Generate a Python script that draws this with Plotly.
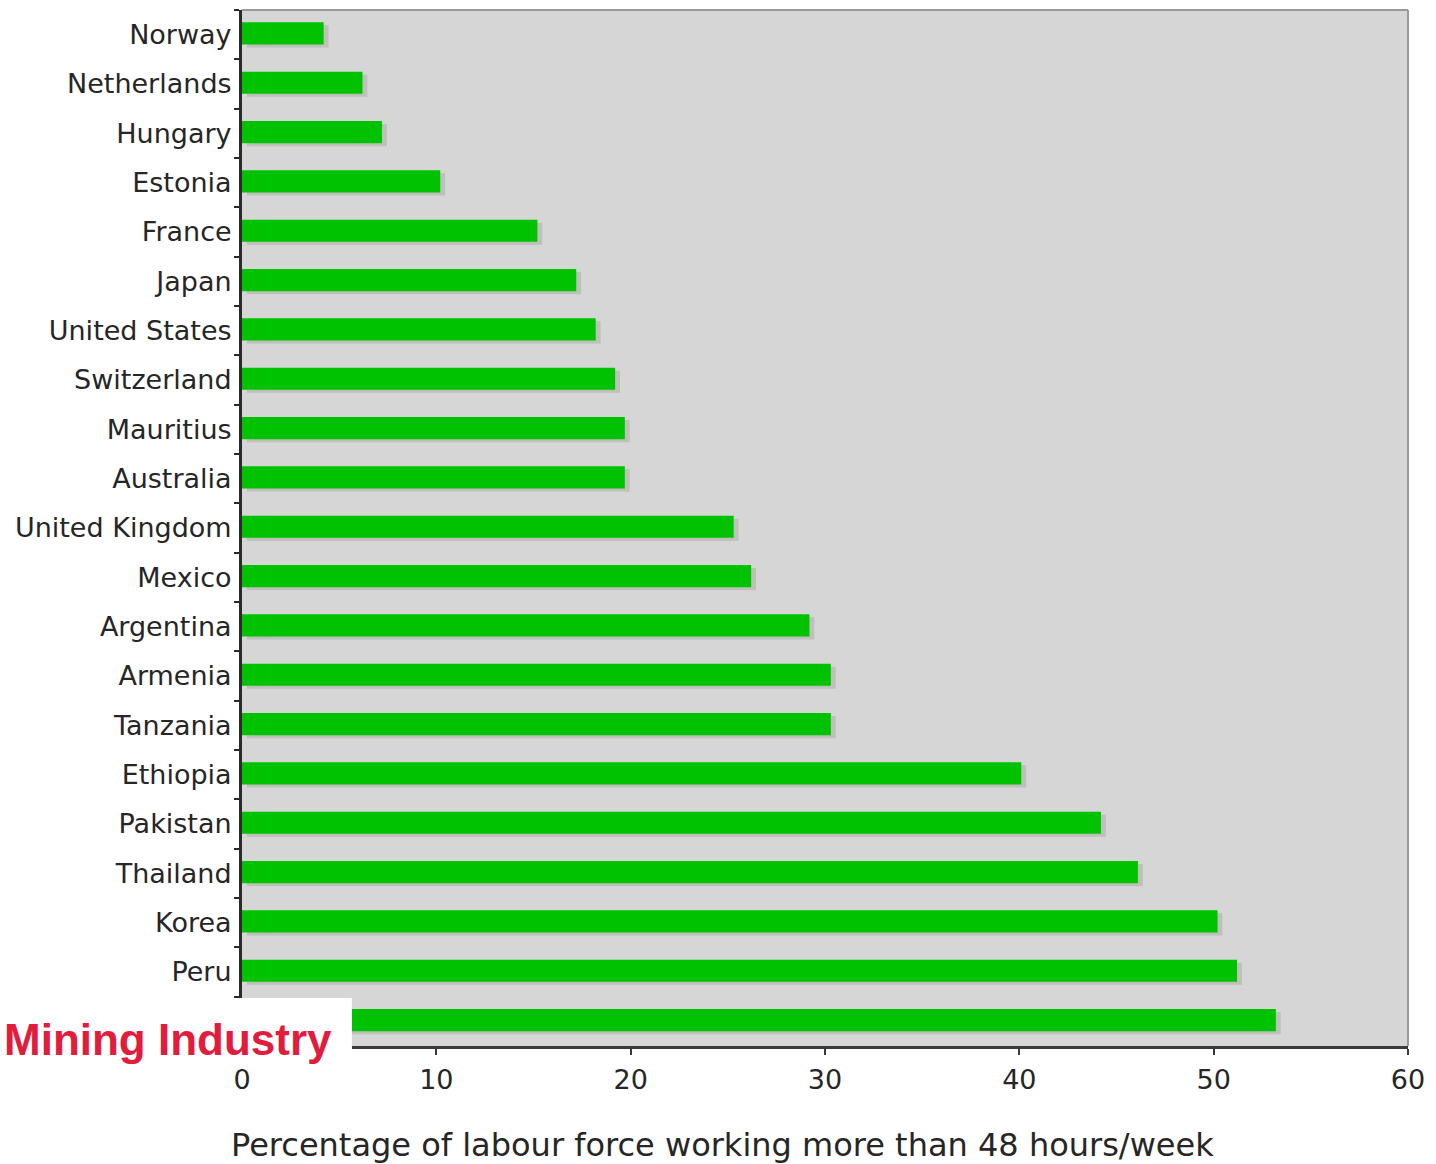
import plotly.graph_objects as go

# Share of the labour force working more than 48 hours per week, by country
countries = [
    "Norway", "Netherlands", "Hungary", "Estonia", "France", "Japan",
    "United States", "Switzerland", "Mauritius", "Australia",
    "United Kingdom", "Mexico", "Argentina", "Armenia", "Tanzania",
    "Ethiopia", "Pakistan", "Thailand", "Korea", "Peru", "Turkey",
]
share_over_48h = [
    4.2, 6.2, 7.2, 10.2, 15.2, 17.2, 18.2, 19.2, 19.7, 19.7,
    25.3, 26.2, 29.2, 30.3, 30.3, 40.1, 44.2, 46.1, 50.2, 51.2, 53.2,
]
# the bottom row's name sits under the caption banner, so it is left blank
country_labels = countries[:-1] + [""]
x_ticks = [0, 10, 20, 30, 40, 50, 60]

label_font = dict(family="DejaVu Sans", size=27, color="#262626")

fig = go.Figure()

# soft drop shadow behind each bar
fig.add_trace(go.Bar(
    y=countries, x=share_over_48h, base=0.25, orientation="h",
    width=0.45, offset=-0.19,
    marker=dict(color="rgba(165,170,155,0.5)", line=dict(width=0)),
    hoverinfo="skip", showlegend=False,
))
# main bars
fig.add_trace(go.Bar(
    y=countries, x=share_over_48h, orientation="h",
    width=0.45, offset=-0.25,
    marker=dict(color="#00c200", line=dict(width=0)),
    showlegend=False,
))

fig.update_layout(
    width=1436, height=1164,
    margin=dict(l=242, r=28, t=10, b=118),
    paper_bgcolor="white",
    plot_bgcolor="#d6d6d6",
    barmode="overlay",
    xaxis=dict(
        range=[0, 60], tickvals=x_ticks, ticktext=[str(v) for v in x_ticks],
        showgrid=False, zeroline=False,
        showline=True, linecolor="#3a3a3a", linewidth=3,
        ticks="outside", ticklen=6, tickwidth=2, tickcolor="#3a3a3a",
        ticklabelstandoff=2,
        tickfont=label_font,
    ),
    yaxis=dict(
        type="category", categoryorder="array", categoryarray=countries,
        tickvals=countries, ticktext=country_labels,
        autorange="reversed",
        showgrid=False, zeroline=False,
        showline=True, linecolor="#2a2a2a", linewidth=3,
        ticks="outside", tickson="boundaries", ticklen=5, tickwidth=2,
        tickcolor="#2a2a2a", ticklabelstandoff=2,
        tickfont=label_font,
    ),
    shapes=[
        # light frame on the top and right of the plotting area
        dict(type="line", xref="paper", yref="paper", x0=0, x1=1, y0=1, y1=1,
             line=dict(color="#9a9a9a", width=2)),
        dict(type="line", xref="paper", yref="paper", x0=1, x1=1, y0=0, y1=1,
             line=dict(color="#9a9a9a", width=2)),
        # white banner for the industry caption
        dict(type="rect", xref="paper", yref="paper", layer="above",
             x0=-0.21, x1=0.0943, y0=-0.0154, y1=0.0463,
             fillcolor="white", line=dict(width=0)),
    ],
    annotations=[
        dict(text="<b>Mining Industry</b>", xref="paper", yref="paper",
             x=-0.206, y=0.006, xanchor="left", yanchor="middle",
             showarrow=False,
             font=dict(family="Liberation Sans", size=44, color="#e31b3c")),
        dict(text="Percentage of labour force working more than 48 hours/week",
             xref="paper", yref="paper", x=0.4117, y=-0.0955,
             xanchor="center", yanchor="middle", showarrow=False,
             font=dict(family="DejaVu Sans", size=32, color="#262626")),
    ],
)

fig.write_html("out.html")
